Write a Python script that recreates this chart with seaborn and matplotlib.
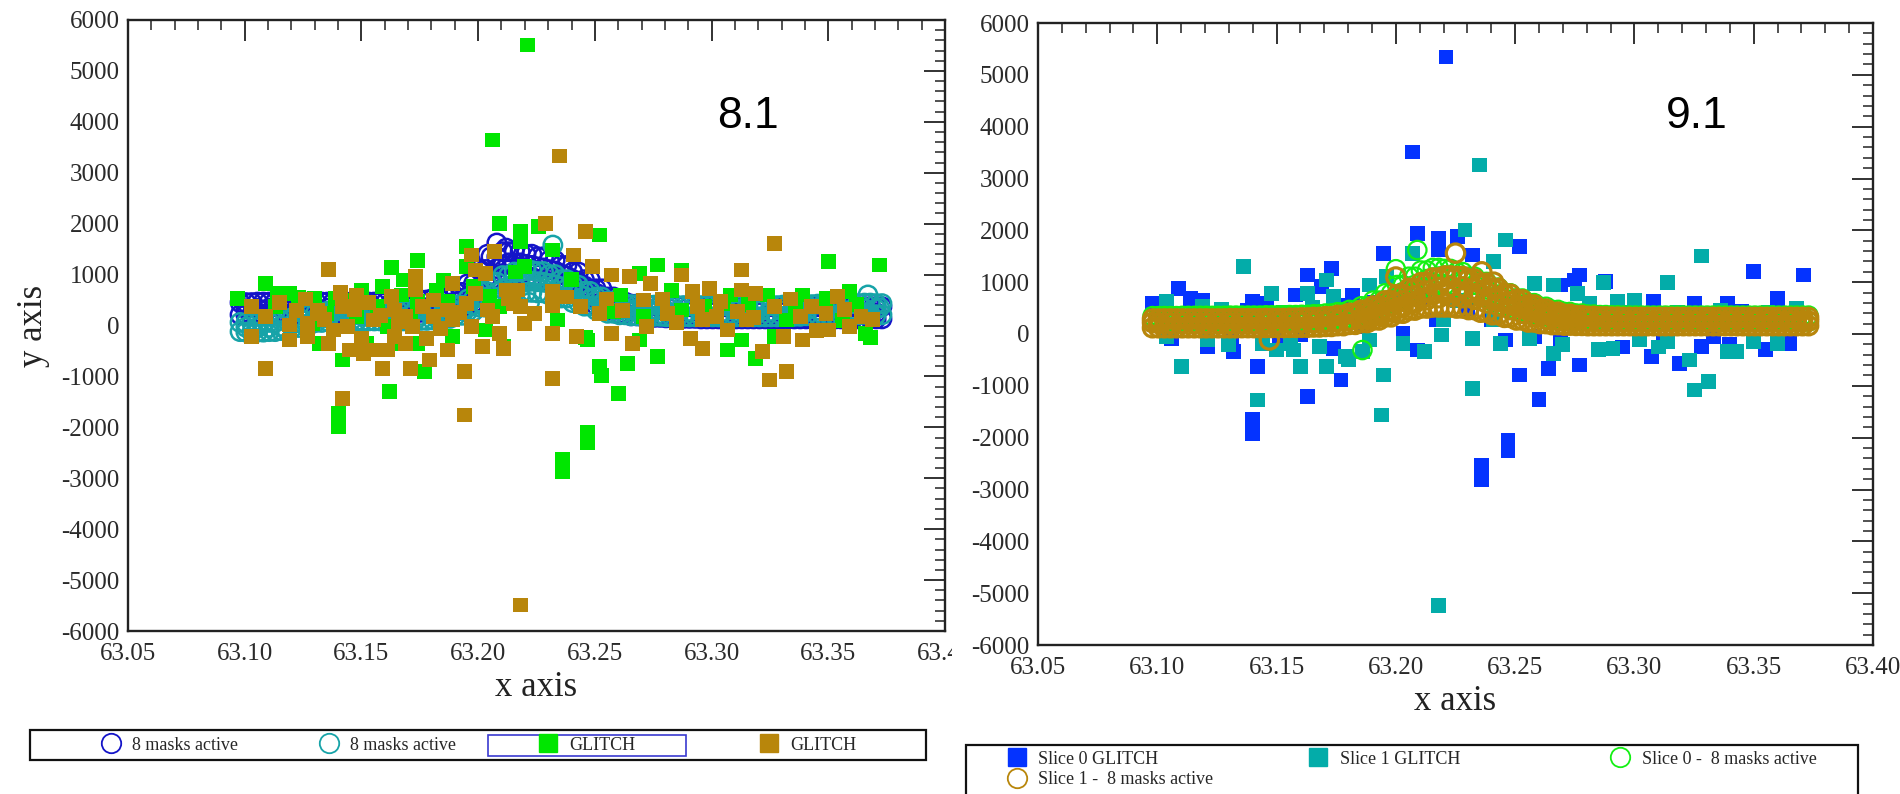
import matplotlib
matplotlib.use("Agg")
import matplotlib.pyplot as plt
import seaborn as sns
from matplotlib.lines import Line2D
from matplotlib.patches import Rectangle
from matplotlib.ticker import MultipleLocator, FuncFormatter
from matplotlib.transforms import Bbox, TransformedBbox

sns.set_theme(style="white")
plt.rcParams["font.family"] = ["Liberation Serif", "DejaVu Serif"]
plt.rcParams["axes.unicode_minus"] = False

# ---- data ----
# x positions of the dense "8 masks active" bands (both panels)
band_x = [63.098, 63.103, 63.108, 63.113, 63.118, 63.123, 63.128, 63.133, 63.138, 63.143,
          63.148, 63.153, 63.158, 63.163, 63.168, 63.173, 63.178, 63.183, 63.188, 63.193,
          63.198, 63.203, 63.208, 63.213, 63.218, 63.223, 63.228, 63.233, 63.238, 63.243,
          63.248, 63.253, 63.258, 63.263, 63.268, 63.273, 63.278, 63.283, 63.288, 63.293,
          63.298, 63.303, 63.308, 63.313, 63.318, 63.323, 63.328, 63.333, 63.338, 63.343,
          63.348, 63.353, 63.358, 63.363, 63.368, 63.373]
# in-between positions
band_x2 = [63.1005, 63.1055, 63.1105, 63.1155, 63.1205, 63.1255, 63.1305, 63.1355, 63.1405, 63.1455,
           63.1505, 63.1555, 63.1605, 63.1655, 63.1705, 63.1755, 63.1805, 63.1855, 63.1905, 63.1955,
           63.2005, 63.2055, 63.2105, 63.2155, 63.2205, 63.2255, 63.2305, 63.2355, 63.2405, 63.2455,
           63.2505, 63.2555, 63.2605, 63.2655, 63.2705, 63.2755, 63.2805, 63.2855, 63.2905, 63.2955,
           63.3005, 63.3055, 63.3105, 63.3155, 63.3205, 63.3255, 63.3305, 63.3355, 63.3405, 63.3455,
           63.3505, 63.3555, 63.3605, 63.3655, 63.3705]
# the hump, where the bands are widest (63.188 .. 63.273)
hump_x = band_x[18:36]

# panel 8.1, slice 0 (blue circles): upper edge, lower edge (band_x), centre (band_x2)
blue_hi = [450, 450, 460, 460, 460, 460, 460, 460, 460, 460,
           460, 460, 460, 460, 470, 480, 500, 530, 570, 650,
           820, 1100, 1350, 1450, 1450, 1400, 1350, 1280, 1180, 1050,
           900, 720, 560, 460, 420, 400, 390, 380, 380, 370,
           370, 370, 370, 370, 370, 370, 370, 370, 370, 370,
           370, 370, 370, 370, 370, 370]
blue_lo = [210, 210, 220, 220, 220, 220, 220, 220, 220, 220,
           220, 220, 220, 220, 230, 240, 260, 280, 300, 350,
           450, 650, 900, 1000, 1000, 950, 900, 850, 750, 650,
           520, 400, 300, 230, 190, 170, 160, 150, 140, 140,
           130, 130, 130, 130, 130, 130, 130, 130, 130, 130,
           130, 130, 130, 130, 130, 130]
blue_mid = [330, 335, 340, 340, 340, 340, 340, 340, 340, 340,
            340, 340, 340, 345, 355, 370, 390, 420, 470, 570,
            750, 1000, 1175, 1225, 1200, 1150, 1095, 1015, 905, 780,
            635, 495, 390, 325, 295, 280, 270, 262, 258, 252,
            250, 250, 250, 250, 250, 250, 250, 250, 250, 250,
            250, 250, 250, 250, 250]
blue_hump = [440, 500, 640, 880, 1120, 1230, 1230, 1180, 1130, 1070,
             970, 850, 710, 560, 430, 350, 310, 290]
blue_out_x = [63.208, 63.204, 63.212]
blue_out_y = [1620, 1400, 1520]

# panel 8.1, slice 1 (cyan circles)
cyan_hi = [60, 50, 50, 60, 100, 160, 220, 260, 280, 290,
           290, 290, 290, 290, 290, 300, 300, 310, 340, 400,
           520, 680, 850, 980, 1050, 1080, 1060, 1000, 900, 790,
           670, 560, 480, 430, 410, 400, 400, 390, 390, 390,
           390, 390, 390, 390, 390, 390, 390, 400, 400, 410,
           420, 420, 430, 430, 440, 430]
cyan_lo = [-120, -130, -130, -120, -100, -40, 20, 60, 80, 90,
           90, 90, 90, 90, 90, 100, 100, 110, 140, 200,
           280, 360, 450, 550, 620, 650, 640, 600, 540, 450,
           380, 300, 240, 210, 190, 180, 180, 170, 170, 170,
           170, 170, 170, 170, 170, 170, 170, 180, 180, 190,
           200, 200, 210, 210, 220, 210]
cyan_mid = [-35, -40, -35, -15, 30, 90, 140, 170, 185, 190,
            190, 190, 190, 190, 195, 200, 205, 225, 270, 350,
            460, 585, 710, 800, 850, 860, 825, 760, 670, 570,
            480, 395, 340, 310, 295, 290, 285, 280, 280, 280,
            280, 280, 280, 280, 280, 280, 285, 290, 295, 305,
            310, 315, 320, 325, 325]
cyan_hump = [240, 300, 400, 520, 650, 770, 840, 870, 850, 800,
             720, 620, 520, 430, 360, 320, 300, 290]
cyan_out_x = [63.232, 63.222, 63.367, 63.372]
cyan_out_y = [1580, 450, 600, 350]

# panel 8.1, GLITCH (green squares)
green_sq_x = [63.209, 63.218, 63.218, 63.226, 63.195, 63.195, 63.174, 63.163, 63.168, 63.159,
              63.109, 63.114, 63.119, 63.097, 63.130, 63.139, 63.144, 63.157, 63.167, 63.174,
              63.182, 63.187, 63.220, 63.232, 63.234, 63.132, 63.142, 63.177, 63.162, 63.140,
              63.140, 63.203, 63.209, 63.205, 63.181, 63.189, 63.174, 63.167, 63.152, 63.161,
              63.148, 63.129, 63.221, 63.206, 63.236, 63.236, 63.247, 63.247, 63.211, 63.246,
              63.252, 63.277, 63.287, 63.350, 63.372, 63.359, 63.339, 63.349, 63.324, 63.308,
              63.269, 63.261, 63.366, 63.327, 63.319, 63.307, 63.277, 63.264, 63.252, 63.260,
              63.247, 63.269, 63.313, 63.332, 63.305, 63.287, 63.271, 63.253, 63.368,
              63.113, 63.123, 63.135, 63.150, 63.171, 63.185, 63.198, 63.216, 63.240, 63.258,
              63.283, 63.297, 63.316, 63.336, 63.356, 63.362]
green_sq_y = [2007, 1843, 1646, 1941, 1548, 1155, 1273, 1142, 893, 763,
              828, 632, 632, 534, 534, 534, 501, 370, 599, 468,
              697, 468, 1155, 1483, 108, -350, -678, -907, -1300, -1720,
              -1990, -89, 370, 566, 180, -220, -350, -350, -350, -23,
              173, 42, 5509, 3643, -2640, -2870, -2110, -2300, -420, -230,
              1777, 1188, 1090, 1254, 1188, 664, 599, 533, 599, 599,
              1024, 599, -154, -220, -645, -481, -612, -743, -809, -1332,
              -285, -285, -285, 108, 435, 304, 173, -990, -230,
              380, 560, 240, 680, 180, 890, 760, 1050, 900, 280,
              690, 380, 420, 310, 90, 420]

# panel 8.1, GLITCH (gold squares)
gold_sq_x = [63.136, 63.229, 63.232, 63.232, 63.207, 63.197, 63.199, 63.203, 63.189, 63.212,
             63.217, 63.218, 63.220, 63.232, 63.232, 63.173, 63.173, 63.163, 63.148, 63.142,
             63.132, 63.119, 63.119, 63.103, 63.103, 63.109, 63.109, 63.142, 63.194, 63.194,
             63.159, 63.171, 63.179, 63.187, 63.202, 63.211, 63.209, 63.197, 63.189, 63.181,
             63.172, 63.164, 63.155, 63.151, 63.145, 63.138, 63.127, 63.127, 63.131, 63.144,
             63.155, 63.164, 63.169, 63.181, 63.187, 63.195, 63.204, 63.161, 63.169, 63.215,
             63.235, 63.218,
             63.246, 63.327, 63.313, 63.287, 63.241, 63.249, 63.257, 63.265, 63.274, 63.299,
             63.292, 63.313, 63.319, 63.354, 63.359, 63.350, 63.339, 63.331, 63.322, 63.332,
             63.325, 63.266, 63.257, 63.242, 63.291, 63.307, 63.315, 63.302, 63.281, 63.272,
             63.252, 63.349, 63.364, 63.338, 63.327, 63.294, 63.271,
             63.115, 63.122, 63.126, 63.134, 63.141, 63.147, 63.153, 63.158, 63.166, 63.176,
             63.184, 63.192, 63.199, 63.206, 63.213, 63.224, 63.238, 63.244, 63.255, 63.262,
             63.279, 63.285, 63.296, 63.304, 63.311, 63.318, 63.334, 63.343, 63.357, 63.369,
             63.150, 63.178, 63.136, 63.296, 63.345]
gold_sq_y = [1103, 2007, 664, 400, 1450, 1385, 1090, 1024, 828, 697,
             697, 370, 42, -154, -1038, 959, 697, 566, 599, 370,
             239, 9, -285, 370, -220, 173, -841, -1431, -907, -1758,
             -841, -841, -678, -481, -416, -449, -154, -23, 108, 173,
             -23, -220, -481, -547, -481, -89, -220, 42, 304, -23,
             108, 304, 173, 501, 304, 435, 304, -481, -350, 435,
             3330, -5490,
             1843, 1614, 1090, 992, 1385, 1155, 992, 959, 828, 730,
             664, 697, 632, 566, -23, -89, -285, -220, -514, -907,
             -1071, -350, -154, -220, -252, -89, 108, 173, 239, -23,
             239, 239, 173, 173, 370, 370, 501,
             450, 300, 520, 120, 650, 320, 450, 200, 80, 380,
             -60, 250, 620, 180, 520, 230, 560, 380, 520, 300,
             520, 60, 120, 480, 280, 150, 520, 380, 320, 120,
             -250, -250, -350, -450, -100]

# panel 9.1, Slice 0 GLITCH (blue squares)
blue_sq_x = [63.209, 63.218, 63.218, 63.226, 63.195, 63.173, 63.163, 63.169, 63.158, 63.109,
             63.114, 63.119, 63.098, 63.140, 63.146, 63.182, 63.232, 63.121, 63.132, 63.142,
             63.163, 63.177, 63.140, 63.140, 63.151, 63.160, 63.174, 63.186, 63.203, 63.209,
             63.217, 63.131, 63.221, 63.207, 63.236, 63.236, 63.247, 63.247,
             63.252, 63.277, 63.275, 63.350, 63.371, 63.360, 63.339, 63.325, 63.308, 63.288,
             63.269, 63.365, 63.328, 63.319, 63.307, 63.277, 63.264, 63.252, 63.260, 63.246,
             63.269, 63.312, 63.333, 63.258, 63.240,
             63.116, 63.125, 63.138, 63.155, 63.178, 63.191, 63.212, 63.230, 63.258, 63.283,
             63.300, 63.322, 63.345, 63.364, 63.106, 63.295, 63.340, 63.355]
blue_sq_y = [1942, 1846, 1621, 1878, 1557, 1267, 1139, 914, 753, 881,
             688, 656, 592, 624, 592, 753, 1524, -244, -340, -630,
             -1208, -887, -1658, -1915, -115, -19, -276, 142, 14, -308,
             271, -51, 5344, 3512, -2530, -2800, -2050, -2240,
             1685, 1139, 1042, 1203, 1139, 688, 592, 592, 624, 1010,
             946, -180, -244, -566, -437, -598, -662, -790, -1260, -115,
             -115, -147, -51, -51, 271,
             460, 350, 450, 380, 560, 600, 700, 500, 480, 420,
             450, 380, 430, 350, -80, -250, -200, -300]

# panel 9.1, Slice 1 GLITCH (teal squares)
teal_sq_x = [63.229, 63.136, 63.148, 63.156, 63.163, 63.171, 63.189, 63.196, 63.207, 63.174,
             63.104, 63.110, 63.142, 63.160, 63.171, 63.180, 63.195, 63.194, 63.232, 63.212,
             63.219, 63.203, 63.220, 63.232, 63.121, 63.150, 63.144, 63.157, 63.168, 63.179,
             63.186, 63.189, 63.104, 63.119, 63.131, 63.235, 63.218,
             63.246, 63.241, 63.314, 63.328, 63.287, 63.300, 63.293, 63.276, 63.281, 63.266,
             63.258, 63.266, 63.291, 63.314, 63.323, 63.325, 63.331, 63.339, 63.350, 63.360,
             63.343, 63.244, 63.256, 63.241, 63.302,
             63.112, 63.127, 63.153, 63.165, 63.178, 63.199, 63.226, 63.252, 63.262, 63.296,
             63.318, 63.336, 63.356, 63.368, 63.130, 63.270, 63.285, 63.310]
teal_sq_y = [2007, 1299, 785, -180, 785, 1042, 946, 1106, 1557, 721,
             624, -630, -1273, -630, -630, -501, -790, -1562, -1048, -340,
             -19, -180, 271, -83, -115, -308, -180, -308, -244, -437,
             -340, -115, -51, 528, 399, 3260, -5230,
             1814, 1396, 991, 1505, 991, 656, 624, 785, 592, 946,
             978, -372, -276, -147, -501, -1080, -919, -340, -147, -180,
             -340, -180, -83, 271, -115,
             300, 480, 420, 520, 450, 600, 650, 600, 500, 420,
             420, 450, 420, 500, -200, -200, -300, -250]

# panel 9.1, Slice 0 - 8 masks active (green circles)
lime_hi = [345, 345, 345, 350, 350, 350, 350, 355, 355, 355,
           360, 360, 365, 370, 380, 395, 420, 465, 535, 645,
           785, 945, 1105, 1225, 1275, 1255, 1195, 1105, 1005, 895,
           785, 685, 595, 525, 465, 425, 395, 375, 365, 360,
           355, 355, 355, 355, 355, 355, 355, 355, 355, 355,
           355, 355, 355, 355, 355, 355]
lime_lo = [230, 230, 230, 230, 230, 232, 232, 235, 235, 235,
           238, 240, 242, 245, 250, 260, 280, 310, 360, 440,
           550, 680, 800, 900, 950, 940, 880, 800, 710, 620,
           530, 450, 390, 340, 300, 275, 260, 250, 245, 240,
           240, 240, 240, 240, 240, 240, 240, 240, 240, 240,
           240, 240, 240, 240, 240, 240]
lime_mid = [305, 305, 305, 307, 308, 308, 310, 312, 312, 314,
            316, 318, 322, 328, 337, 350, 375, 415, 480, 580,
            710, 860, 990, 1090, 1130, 1110, 1050, 960, 870, 770,
            680, 590, 520, 460, 420, 385, 360, 340, 330, 320,
            315, 315, 315, 315, 315, 315, 315, 315, 315, 315,
            315, 315, 315, 315, 315]
lime_hump = [450, 545, 670, 810, 950, 1060, 1110, 1100, 1040, 950,
             860, 760, 660, 570, 490, 430, 385, 350]
lime_out_x = [63.209, 63.186, 63.200, 63.370]
lime_out_y = [1620, -310, 1250, 330]

# panel 9.1, Slice 1 - 8 masks active (gold circles)
ochre_hi = [290, 290, 290, 290, 290, 290, 290, 295, 295, 295,
            300, 300, 305, 310, 320, 335, 360, 400, 460, 540,
            640, 760, 880, 990, 1080, 1120, 1110, 1060, 980, 880,
            770, 660, 560, 480, 420, 380, 355, 340, 330, 325,
            320, 320, 320, 320, 320, 320, 320, 320, 320, 320,
            320, 320, 320, 320, 320, 320]
ochre_lo = [120, 120, 120, 120, 120, 120, 120, 120, 122, 122,
            125, 125, 128, 130, 135, 145, 160, 185, 220, 270,
            330, 400, 460, 500, 520, 520, 500, 470, 420, 370,
            320, 270, 230, 200, 180, 170, 165, 160, 160, 160,
            160, 160, 160, 160, 160, 160, 160, 160, 160, 160,
            160, 160, 160, 160, 160, 160]
ochre_mid = [205, 205, 205, 205, 205, 205, 205, 207, 208, 210,
             212, 214, 217, 222, 230, 245, 270, 305, 355, 420,
             500, 590, 680, 760, 815, 830, 810, 760, 690, 610,
             530, 450, 380, 330, 290, 265, 252, 245, 242, 240,
             240, 240, 240, 240, 240, 240, 240, 240, 240, 240,
             240, 240, 240, 240, 240]
ochre_hump_lo = [300, 360, 430, 520, 600, 660, 700, 720, 700, 670,
                 600, 540, 470, 400, 340, 290, 260, 240]
ochre_hump_hi = [380, 450, 540, 640, 740, 830, 900, 920, 910, 860,
                 800, 710, 620, 530, 450, 390, 340, 310]
ochre_out_x = [63.225, 63.236, 63.200, 63.147, 63.241, 63.373, 63.098]
ochre_out_y = [1560, 1200, 1100, -115, 1000, 250, 220]

# ---- colours ----
c_blue_ring = "#1414c8"
c_cyan_ring = "#17a3a8"
c_green = "#00e600"
c_gold = "#b8860b"
c_blue_sq = "#0433ff"
c_teal_sq = "#03aca9"
c_lime_ring = "#14f014"

W, H = 1900, 794
fig = plt.figure(figsize=(19, 7.94), dpi=100)
ax1 = fig.add_axes([128 / W, 1 - 631 / H, (945 - 128) / W, (631 - 20) / H])
ax2 = fig.add_axes([1038 / W, 1 - 645 / H, (1873 - 1038) / W, (645 - 23) / H])


def band(hi, lo, mid, humps, out_x, out_y):
    # edge rows on both grids, centre row between them, extra rows in the hump
    xs = band_x + band_x + band_x2 + band_x2 + band_x2 + hump_x * len(humps) + out_x
    ys = hi + lo + mid + hi[1:] + lo[1:] + sum(humps, []) + out_y
    return xs, ys


def rings(ax, x, y, col, lw=1.8):
    sns.scatterplot(x=x, y=y, ax=ax, marker="o", s=175, facecolors="none",
                    edgecolor=col, linewidth=lw, legend=False)


def squares(ax, x, y, col):
    sns.scatterplot(x=x, y=y, ax=ax, marker="s", s=115, color=col,
                    edgecolor="none", linewidth=0, legend=False)


# left panel
rings(ax1, *band(blue_hi, blue_lo, blue_mid, [blue_hump], blue_out_x, blue_out_y), c_blue_ring)
rings(ax1, *band(cyan_hi, cyan_lo, cyan_mid, [cyan_hump], cyan_out_x, cyan_out_y), c_cyan_ring)
squares(ax1, green_sq_x, green_sq_y, c_green)
squares(ax1, gold_sq_x, gold_sq_y, c_gold)

# right panel
squares(ax2, blue_sq_x, blue_sq_y, c_blue_sq)
squares(ax2, teal_sq_x, teal_sq_y, c_teal_sq)
rings(ax2, *band(lime_hi, lime_lo, lime_mid, [lime_hump], lime_out_x, lime_out_y), c_lime_ring, 1.6)
rings(ax2, *band(ochre_hi, ochre_lo, ochre_mid, [ochre_hump_lo, ochre_hump_hi],
                 ochre_out_x, ochre_out_y), c_gold, 2.3)

for ax in (ax1, ax2):
    ax.set_xlim(63.05, 63.40)
    ax.set_ylim(-6000, 6000)
    ax.xaxis.set_major_locator(MultipleLocator(0.05))
    ax.xaxis.set_minor_locator(MultipleLocator(0.01))
    ax.yaxis.set_major_locator(MultipleLocator(1000))
    ax.yaxis.set_minor_locator(MultipleLocator(200))
    ax.xaxis.set_major_formatter(FuncFormatter(lambda v, p: f"{v:.2f}"))
    ax.yaxis.set_major_formatter(FuncFormatter(lambda v, p: str(int(round(v)))))
    ax.tick_params(which="both", direction="in", top=True, right=True,
                   color="#222222", labelcolor="#2a2a2a")
    ax.tick_params(which="major", length=15, width=1.3, labelsize=18)
    ax.tick_params(which="minor", length=7.5, width=1.1)
    ax.tick_params(axis="x", pad=9)
    ax.tick_params(axis="y", pad=6)
    for sp in ax.spines.values():
        sp.set_linewidth(1.7)
        sp.set_color("#222222")
    ax.set_xlabel("x axis", fontsize=25, color="#222222", labelpad=4)

ax1.set_ylabel("y axis", fontsize=25, color="#222222", labelpad=8)
ax2.set_ylabel("")

ax1.text(0.759, 0.842, "8.1", transform=ax1.transAxes, ha="center", va="center",
         fontsize=32, family=["Liberation Sans", "DejaVu Sans"], color="black")
ax2.text(0.789, 0.85, "9.1", transform=ax2.transAxes, ha="center", va="center",
         fontsize=32, family=["Liberation Sans", "DejaVu Sans"], color="black")


# legends: one entry each, placed where the original has them
def ring_handle(col):
    return Line2D([], [], ls="none", marker="o", ms=14, mfc="none", mec=col, mew=1.3)


def sq_handle(col):
    return Line2D([], [], ls="none", marker="s", ms=13, mfc=col, mec=col)


entries = [
    (ring_handle(c_blue_ring), "8 masks active", 100, 745),
    (ring_handle(c_cyan_ring), "8 masks active", 318, 745),
    (sq_handle(c_green), "GLITCH", 537, 745),
    (sq_handle(c_gold), "GLITCH", 758, 745),
    (sq_handle(c_blue_sq), "Slice 0 GLITCH", 1006, 759),
    (sq_handle(c_teal_sq), "Slice 1 GLITCH", 1307, 759),
    (ring_handle(c_lime_ring), "Slice 0 -  8 masks active", 1609, 759),
    (ring_handle(c_gold), "Slice 1 -  8 masks active", 1006, 780),
]
for h, lab, px, py in entries:
    fig.legend([h], [lab], loc="center left", bbox_to_anchor=(px / W, 1 - py / H),
               frameon=False, fontsize=13, borderpad=0, borderaxespad=0,
               handlelength=1.2, handletextpad=0.6)

fig.add_artist(Rectangle((30 / W, 1 - 760 / H), 896 / W, 30 / H, transform=fig.transFigure,
                         fill=False, ec="#111111", lw=1.6))
fig.add_artist(Rectangle((488 / W, 1 - 756 / H), 198 / W, 21 / H, transform=fig.transFigure,
                         fill=False, ec="#3a3ad0", lw=1.2))
fig.add_artist(Rectangle((966 / W, -0.05), 892 / W, 0.05 + 1 - 745 / H, transform=fig.transFigure,
                         fill=False, ec="#111111", lw=1.6, clip_on=False))

# the left picture is cut just after its last tick label
fig.canvas.draw()
clip = TransformedBbox(Bbox([[0, 0], [952 / W, 1]]), fig.transFigure)
for lab in ax1.get_xticklabels():
    if lab.get_text() == "63.40":
        lab.set_clip_box(clip)
        lab.set_clip_on(True)

fig.savefig("out.png", dpi=100)
